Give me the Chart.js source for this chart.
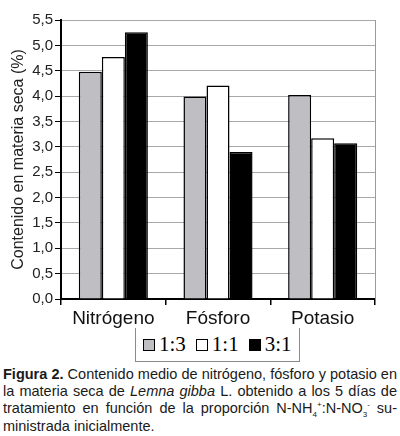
<!DOCTYPE html>
<html>
<head>
<meta charset="utf-8">
<script src="https://cdn.jsdelivr.net/npm/chart.js@4.4.0/dist/chart.umd.min.js"></script>
<style>
  html, body { margin: 0; padding: 0; background: #fff; }
  body { width: 400px; height: 436px; position: relative; overflow: hidden; }
  #chartBox { position: absolute; left: 0; top: 0; width: 400px; height: 328px; }
  #legend {
    position: absolute; left: 135px; top: 328px; width: 165px; height: 34px;
    border: 1px solid #8a8a8a; border-top: none; box-sizing: border-box;
    display: flex; align-items: center; padding-left: 7px;
    font-family: "Liberation Serif", "Times New Roman", serif; font-size: 21px; color: #000;
  }
  #legend .item { display: flex; align-items: center; margin-right: 10px; }
  #legend .swatch { width: 12px; height: 12px; box-sizing: border-box; border: 1px solid #000; margin-right: 4px; }
  #caption {
    position: absolute; left: 3px; top: 366px; width: 394px;
    font-family: "Liberation Sans", Arial, sans-serif; font-size: 14.5px; line-height: 17.2px; color: #1a1a1a;
  }
  #caption .line { text-align: justify; text-align-last: justify; white-space: nowrap; }
  #caption .line.last { text-align-last: left; }
  #caption sub, #caption sup { font-size: 8px; line-height: 0; }
</style>
</head>
<body>
<div id="chartBox"><canvas id="chart"></canvas></div>
<div id="legend"></div>
<div id="caption">
  <div class="line"><b>Figura 2.</b> Contenido medio de nitrógeno, fósforo y potasio en</div>
  <div class="line">la materia seca de <i>Lemna gibba</i> L. obtenido a los 5 días de</div>
  <div class="line">tratamiento en función de la proporción N-NH<sub>4</sub><sup>+</sup>:N-NO<sub>3</sub><sup>-</sup> su-</div>
  <div class="line last">ministrada inicialmente.</div>
</div>
<script>
// nutrients on the x axis
const categories = ['Nitrógeno', 'Fósforo', 'Potasio'];
// N-NH4+:N-NO3- ratios (series)
const ratioLabels = ['1:3', '1:1', '3:1'];
const ratioColors = ['#bebec3', '#ffffff', '#000000'];
// contenido en materia seca (%)
const values13 = [4.48, 3.99, 4.02];
const values11 = [4.77, 4.21, 3.17];
const values31 = [5.26, 2.90, 3.07];
const yMin = 0, yMax = 5.5, yStep = 0.5;

const seriesValues = [values13, values11, values31];

// gray line on the right edge of the plot
const rightBorder = {
    id: 'rightBorder',
    afterDraw(chart) {
        const { ctx, chartArea } = chart;
        ctx.save();
        ctx.strokeStyle = '#9a9a9a';
        ctx.lineWidth = 1;
        ctx.beginPath();
        ctx.moveTo(Math.round(chartArea.right) + 0.5, chartArea.top);
        ctx.lineTo(Math.round(chartArea.right) + 0.5, chartArea.bottom);
        ctx.stroke();
        ctx.restore();
    }
};

const chart = new Chart(document.getElementById('chart'), {
    type: 'bar',
    data: {
        labels: categories,
        datasets: ratioLabels.map((label, i) => ({
            label: label,
            data: seriesValues[i],
            backgroundColor: ratioColors[i],
            borderColor: '#000',
            borderWidth: 1.5,
            borderSkipped: 'bottom',
            barPercentage: 1.0,
            categoryPercentage: 0.66
        }))
    },
    options: {
        responsive: true,
        maintainAspectRatio: false,
        animation: false,
        layout: { padding: { top: 20, right: 25, left: 0, bottom: 0 } },
        plugins: {
            legend: { display: false },
            tooltip: { enabled: false }
        },
        scales: {
            x: {
                afterFit(scale) { scale.height = 29; },
                grid: {
                    drawOnChartArea: false,
                    drawTicks: true,
                    tickLength: 6,
                    tickColor: '#000',
                    lineWidth: 1.5
                },
                border: { color: '#000', width: 2 },
                ticks: {
                    color: '#111',
                    padding: 2,
                    font: { family: '"Liberation Sans", Arial, sans-serif', size: 19 }
                }
            },
            y: {
                min: yMin,
                max: yMax,
                afterFit(scale) { scale.width = 61; },
                grid: {
                    color: '#a8a8a8',
                    lineWidth: 1,
                    tickLength: 6,
                    tickColor: '#000'
                },
                border: { color: '#000', width: 2 },
                ticks: {
                    stepSize: yStep,
                    padding: 2,
                    color: '#222',
                    font: { family: '"Liberation Sans", Arial, sans-serif', size: 15 },
                    callback: v => v.toFixed(1).replace('.', ',')
                },
                title: {
                    display: true,
                    text: 'Contenido en materia seca (%)',
                    color: '#222',
                    padding: { top: 9, bottom: 0 },
                    font: { family: '"Liberation Sans", Arial, sans-serif', size: 16 }
                }
            }
        }
    },
    plugins: [rightBorder]
});

// legend with a box around it, like the figure
const legendEl = document.getElementById('legend');
chart.data.datasets.forEach(ds => {
    const item = document.createElement('div');
    item.className = 'item';
    const sw = document.createElement('span');
    sw.className = 'swatch';
    sw.style.background = ds.backgroundColor;
    item.appendChild(sw);
    item.appendChild(document.createTextNode(ds.label));
    legendEl.appendChild(item);
});
</script>
</body>
</html>
